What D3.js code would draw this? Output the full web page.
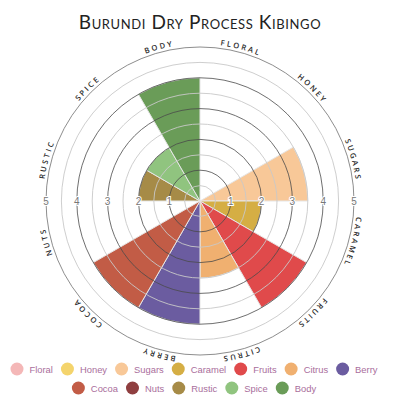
<!DOCTYPE html>
<html><head><meta charset="utf-8">
<script src="https://cdn.jsdelivr.net/npm/d3@7"></script>
<style>html,body{margin:0;padding:0;background:#fff;} svg{display:block;}</style>
</head><body>
<svg id="chart" width="400" height="400"></svg>
<script>
const title = "Burundi Dry Process Kibingo";
const categories = ["Floral","Honey","Sugars","Caramel","Fruits","Citrus","Berry","Cocoa","Nuts","Rustic","Spice","Body"];
const values = [0,0,3.5,2,4,2.5,4,4,0,2,2,4];
const colors = ["#f4b7b7","#f4d46c","#f8c898","#d5ae44","#e04a4b","#f0b070","#6b5ca0","#c25c46","#8f3f40","#a68b47","#90c47f","#6a9c58"];
const ringValues = [0.5,1,1.5,2,2.5,3,3.5,4,4.5,5];
const tickLabels = [1,2,3,4,5];
const maxValue = 5;

const svg = d3.select("#chart");
const cx = 200, cy = 201, R = 154;
const r = d3.scaleLinear().domain([0, maxValue]).range([0, R]);
const angle = d3.scaleBand().domain(categories).range([0, 2 * Math.PI]).padding(0);
const data = categories.map((c, i) => ({cat: c, value: values[i], color: colors[i]}));

svg.append("text")
  .attr("x", 200).attr("y", 29)
  .attr("text-anchor", "middle")
  .style("font-family", "Lato, 'Open Sans', sans-serif")
  .style("font-size", "19px")
  .style("font-variant", "small-caps")
  .style("letter-spacing", "0.6px")
  .attr("fill", "#222")
  .text(title);

const g = svg.append("g").attr("transform", `translate(${cx},${cy})`);

const arc = d3.arc()
  .innerRadius(0)
  .outerRadius(d => r(d.value))
  .startAngle(d => angle(d.cat))
  .endAngle(d => angle(d.cat) + angle.bandwidth());

g.selectAll("path.wedge")
  .data(data.filter(d => d.value > 0))
  .join("path")
  .attr("class", "wedge")
  .attr("d", arc)
  .attr("fill", d => d.color)
  .attr("stroke", "#e6e6e6")
  .attr("stroke-width", 1);

g.selectAll("circle.ring")
  .data(ringValues)
  .join("circle")
  .attr("class", "ring")
  .attr("r", d => r(d))
  .attr("fill", "none")
  .attr("stroke", d => d === maxValue ? "#707070" : (Number.isInteger(d) ? "#4a4a4a" : "#c8c8c8"))
  .attr("stroke-width", d => Number.isInteger(d) ? 0.8 : 0.9);

const ticks = [];
tickLabels.forEach(v => { ticks.push({v, s: 1}); ticks.push({v, s: -1}); });
g.selectAll("text.tick")
  .data(ticks)
  .join("text")
  .attr("class", "tick")
  .attr("x", d => d.s * r(d.v))
  .attr("y", 0)
  .attr("text-anchor", "middle")
  .attr("dominant-baseline", "central")
  .style("font-family", "'Liberation Sans', Arial, sans-serif")
  .style("font-size", "10px")
  .attr("fill", "#777")
  .attr("stroke", "#fff")
  .attr("stroke-width", 2)
  .attr("paint-order", "stroke")
  .text(d => d.v);

const LR = 157;
g.append("path")
  .attr("id", "labelArc")
  .attr("d", `M0,${-LR} A${LR},${LR} 0 1,1 0,${LR} A${LR},${LR} 0 1,1 0,${-LR}`)
  .attr("fill", "none");
const C = 2 * Math.PI * LR;
g.selectAll("text.cat")
  .data(data)
  .join("text")
  .attr("class", "cat")
  .style("font-family", "'Open Sans', Lato, sans-serif")
  .style("font-size", "7.6px")
  .style("font-weight", "600")
  .style("letter-spacing", "2.2px")
  .attr("fill", "#2a2a2a")
  .append("textPath")
  .attr("href", "#labelArc")
  .attr("startOffset", d => ((angle(d.cat) + angle.bandwidth() / 2) / (2 * Math.PI)) * C)
  .attr("text-anchor", "middle")
  .text(d => d.cat.toUpperCase());

// legend
const legend = svg.append("g");
const items = legend.selectAll("g.item").data(data).join("g").attr("class", "item");
items.append("circle").attr("r", 6.5).attr("cx", 6.5).attr("cy", 0).attr("fill", d => d.color);
items.append("text")
  .attr("x", 19).attr("y", 0.3)
  .attr("dominant-baseline", "central")
  .style("font-family", "'Liberation Sans', Arial, sans-serif")
  .style("font-size", "9.4px")
  .attr("fill", "#a96e9c")
  .text(d => d.cat);
const widths = [];
items.each(function() { widths.push(19 + d3.select(this).select("text").node().getComputedTextLength() + 8); });
const maxW = 385, rowYs = [369, 388], midX = 198;
let rows = [[]], rowW = [0];
widths.forEach((w, i) => {
  const k = rows.length - 1;
  if (rowW[k] + w > maxW && rows[k].length) { rows.push([]); rowW.push(0); }
  rows[rows.length - 1].push(i); rowW[rows.length - 1] += w;
});
rows.forEach((row, k) => {
  let x = midX - rowW[k] / 2;
  row.forEach(i => {
    d3.select(items.nodes()[i]).attr("transform", `translate(${x},${rowYs[k]})`);
    x += widths[i];
  });
});
</script>
</body></html>
